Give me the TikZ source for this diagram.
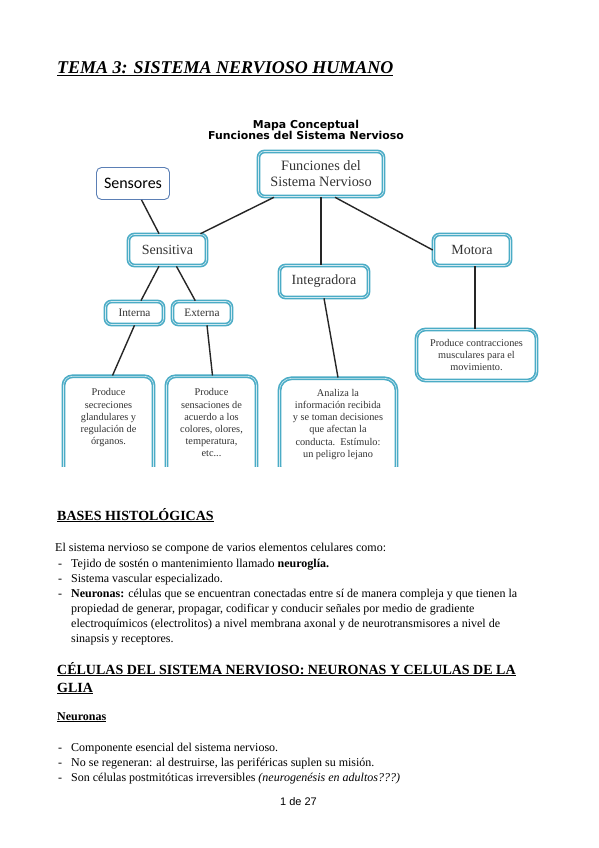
\documentclass[tikz,border=0pt]{standalone}
\usepackage{fontspec}
\setmainfont{Liberation Serif}
\newfontfamily\mapfont{DejaVu Sans}
\newfontfamily\calfont{Carlito}
\newfontfamily\pagefont{Liberation Sans}
\usetikzlibrary{positioning}
\definecolor{mapcyan}{HTML}{4BACC6}
\definecolor{sensblue}{HTML}{5B7FB5}
\newcommand{\rayita}{\makebox[13pt][l]{-}}
\begin{document}
\begin{tikzpicture}[x=1pt,y=-1pt,
  caja/.style={draw=mapcyan, line width=1.6pt, double=mapcyan!25, double distance=0.6pt, rounded corners=6pt, fill=white, align=center, inner sep=1pt, text=black!80},
  cajatxt/.style={align=center, inner sep=0pt, text=black!80, font=\fontsize{10.3}{12.2}\selectfont},
  enlace/.style={line width=1.4pt, black!85},
  linea/.style={anchor=base west, inner sep=0pt, font=\fontsize{12}{15}\selectfont},
  titulo2/.style={linea, font=\fontsize{14}{16}\selectfont\bfseries}]
\useasboundingbox (0,0) rectangle (599,848);
\fill[white] (0,0) rectangle (599,848);

% Page title
\node[linea, font=\fontsize{18}{20}\selectfont\bfseries\itshape] (tema) at (57,74) {\underline{TEMA 3: SISTEMA NERVIOSO HUMANO}};

% The concept map, cut at the bottom like the pasted picture
\begin{scope}
\clip (55,100) rectangle (545,466);
\node[font=\mapfont\bfseries\fontsize{10.9}{11}\selectfont, align=center] (mapa) at (306,129.5) {Mapa Conceptual\\Funciones del Sistema Nervioso};

% Boxes of the map
\node[caja, minimum width=125, minimum height=45, font=\fontsize{14.3}{16}\selectfont] (raiz) at (321,174) {Funciones del\\Sistema Nervioso};
\node[draw=sensblue, line width=0.9pt, rounded corners=5pt, minimum width=73, minimum height=32, font=\calfont\fontsize{16}{18}\selectfont] (sensores) at (133,183.5) {Sensores};
\node[caja, minimum width=78, minimum height=31, font=\fontsize{14}{16}\selectfont] (sensi) at (167.5,250) {Sensitiva};
\node[caja, minimum width=89, minimum height=32, font=\fontsize{14}{16}\selectfont] (integ) at (324,281.5) {Integradora};
\node[caja, minimum width=77, minimum height=31, font=\fontsize{14}{16}\selectfont] (motora) at (472,250) {Motora};
\node[caja, minimum width=58, minimum height=23, font=\fontsize{11.3}{13}\selectfont] (interna) at (134.5,313) {Interna};
\node[caja, minimum width=59, minimum height=23, font=\fontsize{11.3}{13}\selectfont] (externa) at (202,313) {Externa};

% Description boxes (the lower three run out of the picture)
\node[caja, anchor=north, rounded corners=9pt, minimum width=90, minimum height=100] (dint) at (108.5,375.5) {};
\node[cajatxt, below=13pt of dint.north] (tint) {Produce\\secreciones\\glandulares y\\regulación de\\órganos.};
\node[caja, anchor=north, rounded corners=9pt, minimum width=90, minimum height=100] (dext) at (211.5,375.5) {};
\node[cajatxt, below=13pt of dext.north] (text) {Produce\\sensaciones de\\acuerdo a los\\colores, olores,\\temperatura,\\etc...};
\node[caja, anchor=north, rounded corners=12pt, minimum width=117, minimum height=100] (dinteg) at (338,377.5) {};
\node[cajatxt, below=11.5pt of dinteg.north] (tinteg) {Analiza la\\información recibida\\y se toman decisiones\\que afectan la\\conducta.\ \ Estímulo:\\un peligro lejano};
\node[caja, rounded corners=9pt, minimum width=120, minimum height=51, font=\fontsize{10.3}{12}\selectfont] (dmot) at (476.5,355) {Produce contracciones\\musculares para el\\movimiento.};

% Connectors
\draw[enlace] (raiz) -- (sensi);
\draw[enlace] (raiz.south) -- (raiz.south |- integ.north);
\draw[enlace] ([xshift=14pt]raiz.south) -- (motora.west);
\draw[enlace] (sensores) -- (sensi);
\draw[enlace] (sensi) -- (interna);
\draw[enlace] (sensi) -- (externa);
\draw[enlace] (interna.south) -- ([xshift=4pt]dint.north);
\draw[enlace] ([xshift=5pt]externa.south) -- ([xshift=1pt]dext.north);
\draw[enlace] (integ.south) -- (dinteg.north);
\draw[enlace] ([xshift=3pt]motora.south) -- ([xshift=3pt]motora.south |- dmot.north);
\end{scope}

% Text of the page
\node[titulo2] (bases) at (57,520) {\underline{BASES HISTOLÓGICAS}};
\node[linea] (l1) at (55,551.5) {El sistema nervioso se compone de varios elementos celulares como:};
\node[linea] (l2) at (58,567) {\rayita Tejido de sostén o mantenimiento llamado \textbf{neuroglía.}};
\node[linea] (l3) at (58,582) {\rayita Sistema vascular especializado.};
\node[linea] (l4) at (58,597.5) {\rayita \textbf{Neuronas:} células que se encuentran conectadas entre sí de manera compleja y que tienen la};
\node[linea] (l5) at (71,612.5) {propiedad de generar, propagar, codificar y conducir señales por medio de gradiente};
\node[linea] (l6) at (71,627.5) {electroquímicos (electrolitos) a nivel membrana axonal y de neurotransmisores a nivel de};
\node[linea] (l7) at (71,642.5) {sinapsis y receptores.};

\node[titulo2] (celulas) at (57,674) {\underline{CÉLULAS DEL SISTEMA NERVIOSO: NEURONAS Y CELULAS DE LA}};
\node[titulo2] (glia) at (57,692) {\underline{GLIA}};
\node[linea, font=\fontsize{12}{14}\selectfont\bfseries] (neur) at (57,720) {\underline{Neuronas}};

\node[linea] (m1) at (58,751.5) {\rayita Componente esencial del sistema nervioso.};
\node[linea] (m2) at (58,766.5) {\rayita No se regeneran: al destruirse, las periféricas suplen su misión.};
\node[linea] (m3) at (58,781.5) {\rayita Son células postmitóticas irreversibles \textit{(neurogenésis en adultos???)}};

% Page number
\node[anchor=base, inner sep=0pt, font=\pagefont\fontsize{11}{13}\selectfont] (pag) at (298.5,805) {1 de 27};
\end{tikzpicture}
\end{document}
